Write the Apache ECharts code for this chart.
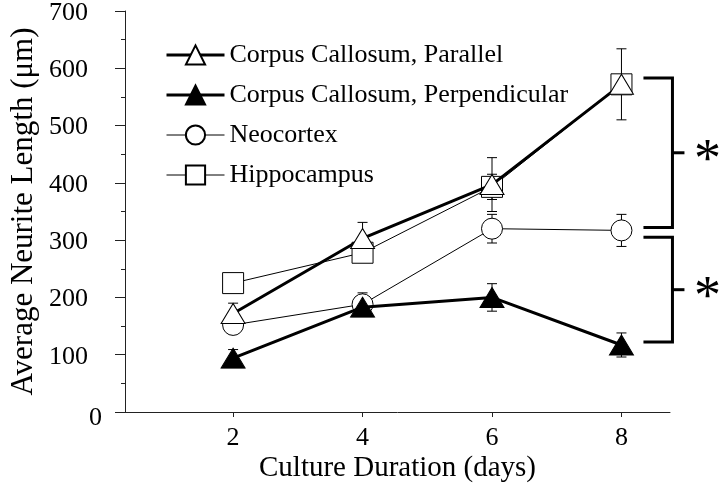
<!DOCTYPE html>
<html>
<head>
<meta charset="utf-8">
<script src="https://cdn.jsdelivr.net/npm/echarts@6/dist/echarts.min.js"></script>
<style>html,body{margin:0;padding:0;background:#fff;}#c{width:720px;height:492px;}</style>
</head>
<body>
<div id="c"></div>
<script>
var days = [2, 4, 6, 8];
var ccParallel = [172, 303, 397, 572];
var ccParallelErr = [18, 28, 47, 62];
var ccPerp = [94, 183, 200, 117];
var ccPerpErr = [15, 6, 24, 21];
var neocortex = [152, 188, 320, 317];
var neocortexErr = [8, 20, 25, 28];
var hippocampus = [225, 278, 393, 572];
var hippocampusErr = [6, 6, 22, 8];
var yTicks = [0, 100, 200, 300, 400, 500, 600, 700];
var sigBrackets = [[583, 322], [305, 122]];
var sigLabels = ['*', '*'];
var seriesNames = ['Corpus Callosum, Parallel', 'Corpus Callosum, Perpendicular', 'Neocortex', 'Hippocampus'];

var FONT = 'Liberation Serif';
function pairs(xs, ys) { return xs.map(function (x, i) { return [x, ys[i]]; }); }
function errData(xs, ys, es) { return xs.map(function (x, i) { return [x, ys[i], es[i]]; }); }

function errSeries(ys, es, z) {
  return {
    type: 'custom', z: z, silent: true,
    data: errData(days, ys, es),
    renderItem: function (params, api) {
      var x = api.value(0), m = api.value(1), e = api.value(2);
      var top = api.coord([x, m + e]), bot = api.coord([x, m - e]);
      var cx = top[0];
      var st = { stroke: '#000', lineWidth: 1 };
      return { type: 'group', children: [
        { type: 'line', shape: { x1: cx, y1: top[1], x2: cx, y2: bot[1] }, style: st },
        { type: 'line', shape: { x1: cx - 5, y1: top[1], x2: cx + 5, y2: top[1] }, style: st },
        { type: 'line', shape: { x1: cx - 5, y1: bot[1], x2: cx + 5, y2: bot[1] }, style: st }
      ]};
    }
  };
}

var chart = echarts.init(document.getElementById('c'));
chart.setOption({
  animation: false,
  backgroundColor: '#fff',
  grid: { left: 125, right: 50, top: 10, bottom: 80, containLabel: false },
  legend: {
    orient: 'vertical', left: 160, top: 37,
    itemWidth: 58, itemHeight: 24, itemGap: 14,
    textStyle: { fontFamily: FONT, fontSize: 26, color: '#000', lineHeight: 24, padding: [0, 0, 0, 0] },
    data: [
      { name: seriesNames[0], lineStyle: { width: 3 } },
      { name: seriesNames[1], lineStyle: { width: 3 } },
      { name: seriesNames[2], lineStyle: { width: 1 } },
      { name: seriesNames[3], lineStyle: { width: 1 } }
    ]
  },
  xAxis: {
    type: 'value', min: 0.33, max: 8.75,
    name: 'Culture Duration (days)', nameLocation: 'middle', nameGap: 42, nameMoveOverlap: false,
    nameTextStyle: { fontFamily: FONT, fontSize: 29, color: '#000' },
    axisLine: { show: true, onZero: false, lineStyle: { color: '#222', width: 1 } },
    axisTick: { show: true, length: 5, lineStyle: { color: '#222' }, customValues: days },
    axisLabel: { fontFamily: FONT, fontSize: 26, color: '#000', margin: 13, customValues: days },
    splitLine: { show: false }
  },
  yAxis: {
    type: 'value', min: 0, max: 700, interval: 100,
    name: 'Average Neurite Length (\u03bcm)', nameLocation: 'middle', nameGap: 86, nameMoveOverlap: false,
    nameTextStyle: { fontFamily: FONT, fontSize: 31, color: '#000' },
    axisLine: { show: true, lineStyle: { color: '#222', width: 1 } },
    axisTick: { show: true, length: 10, lineStyle: { color: '#222' } },
    minorTick: { show: true, splitNumber: 2, length: 4, lineStyle: { color: '#222' } },
    axisLabel: {
      fontFamily: FONT, fontSize: 26, color: '#000', margin: 23,
      formatter: function (v) { return v === 0 ? '{z|0}' : '{n|' + v + '}'; },
      rich: {
        n: { fontFamily: FONT, fontSize: 26, color: '#000', padding: [4, 14, 0, 0] },
        z: { fontFamily: FONT, fontSize: 26, color: '#000', padding: [12, 0, 0, 0] }
      }
    },
    splitLine: { show: false }
  },
  series: [
    errSeries(hippocampus, hippocampusErr, 1),
    errSeries(neocortex, neocortexErr, 1),
    errSeries(ccParallel, ccParallelErr, 1),
    errSeries(ccPerp, ccPerpErr, 1),
    {
      name: seriesNames[3], type: 'line', z: 2, data: pairs(days, hippocampus),
      symbol: 'rect', symbolSize: 21,
      lineStyle: { color: '#000', width: 1 },
      itemStyle: { color: '#fff', borderColor: '#000', borderWidth: 1 }
    },
    {
      name: seriesNames[2], type: 'line', z: 3, data: pairs(days, neocortex),
      symbol: 'circle', symbolSize: 21,
      lineStyle: { color: '#000', width: 1 },
      itemStyle: { color: '#fff', borderColor: '#000', borderWidth: 1 }
    },
    {
      name: seriesNames[0], type: 'line', z: 4, data: pairs(days, ccParallel),
      symbol: 'triangle', symbolSize: [24, 20],
      lineStyle: { color: '#000', width: 3 },
      itemStyle: { color: '#fff', borderColor: '#000', borderWidth: 1 }
    },
    {
      name: seriesNames[1], type: 'line', z: 5, data: pairs(days, ccPerp),
      symbol: 'triangle', symbolSize: [24, 20],
      lineStyle: { color: '#000', width: 3 },
      itemStyle: { color: '#000', borderColor: '#000', borderWidth: 1 }
    },
    {
      type: 'custom', z: 6, silent: true, clip: false,
      data: sigBrackets.map(function (b, i) { return [days[days.length - 1], b[0], b[1], i]; }),
      renderItem: function (params, api) {
        var x = api.value(0);
        var p1 = api.coord([x, api.value(1)]), p2 = api.coord([x, api.value(2)]);
        var x0 = p1[0] + 22, xv = p1[0] + 51, xt = p1[0] + 63, xs = p1[0] + 86;
        var ym = (p1[1] + p2[1]) / 2;
        var st = { stroke: '#000', lineWidth: 3, fill: null };
        return { type: 'group', children: [
          { type: 'polyline', shape: { points: [[x0, p1[1]], [xv, p1[1]], [xv, p2[1]], [x0, p2[1]]] }, style: st },
          { type: 'line', shape: { x1: xv, y1: ym, x2: xt, y2: ym }, style: st },
          { type: 'text', style: { text: sigLabels[api.value(3)], x: xs, y: ym + 9, align: 'center', verticalAlign: 'middle',
            font: '54px "Liberation Serif"', fill: '#000' } }
        ]};
      }
    }
  ]
});
</script>
</body>
</html>
